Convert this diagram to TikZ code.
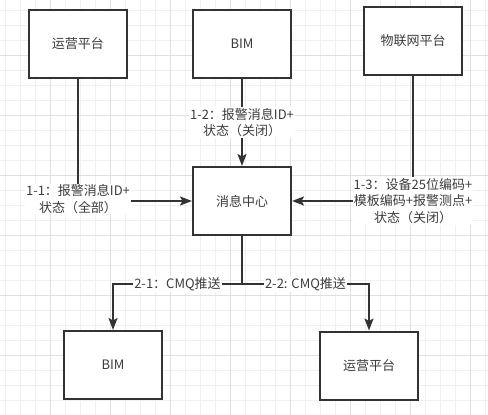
\documentclass[tikz,border=0pt]{standalone}
\usepackage{fontspec}
\setmainfont{Noto Sans CJK SC}
\usetikzlibrary{arrows.meta}
\definecolor{ink}{HTML}{333333}
\definecolor{txt}{HTML}{3C3C3C}
\definecolor{gridminor}{HTML}{F0F0F0}
\definecolor{gridmajor}{HTML}{E0E0E0}
\begin{document}
\begin{tikzpicture}[x=1pt,y=-1pt,
  box/.style={draw=ink,line width=2pt,fill=white,minimum width=98pt,minimum height=68pt,inner sep=0pt,
    font=\fontsize{13}{16}\selectfont,text=txt},
  conn/.style={draw=ink,line width=2pt},
  arr/.style={conn,-{Stealth[length=12pt,width=9pt,inset=2.5pt]}},
  lbl/.style={fill=white,inner sep=1pt,align=center,font=\fontsize{13}{16.5}\selectfont,text=txt}]
\useasboundingbox (0,0) rectangle (488,415);
\fill[white] (0,0) rectangle (488,415);
% grid
\foreach \i in {0,...,32} {\draw[gridminor,line width=1pt] ({5.7+15*\i},0) -- ({5.7+15*\i},415);}
\foreach \j in {0,...,27} {\draw[gridminor,line width=1pt] (0,{10+15*\j}) -- (488,{10+15*\j});}
\foreach \i in {0,...,7} {\draw[gridmajor,line width=1pt] ({50.7+60*\i},0) -- ({50.7+60*\i},415);}
\foreach \j in {0,...,6} {\draw[gridmajor,line width=1pt] (0,{55+60*\j}) -- (488,{55+60*\j});}
% nodes
\node[box] (ops1) at (78,44) {运营平台};
\node[box] (bim1) at (242,44) {BIM};
\node[box] (iot) at (413,41) {物联网平台};
\node[box] (msg) at (242,201) {消息中心};
\node[box] (bim2) at (113,365) {BIM};
\node[box] (ops2) at (369,365.5) {运营平台};
\coordinate (split) at (242,284);
% connectors
\draw[arr] (ops1.south) |- node[lbl,pos=0.5,yshift=2pt]{1-1：报警消息ID+\\状态（全部）} (msg.west);
\draw[arr] (bim1.south) -- node[lbl]{1-2：报警消息ID+\\状态（关闭）} (msg.north);
\draw[arr] (iot.south) |- node[lbl,pos=0.5]{1-3：设备25位编码+\\模板编码+报警测点+\\状态（关闭）} (msg.east);
\draw[conn] (msg.south) -- (split);
\draw[arr] (split) -| node[lbl,pos=0.25]{2-1：CMQ推送} (bim2.north);
\draw[arr] (split) -| node[lbl,pos=0.25]{2-2: CMQ推送} (ops2.north);
\end{tikzpicture}
\end{document}
